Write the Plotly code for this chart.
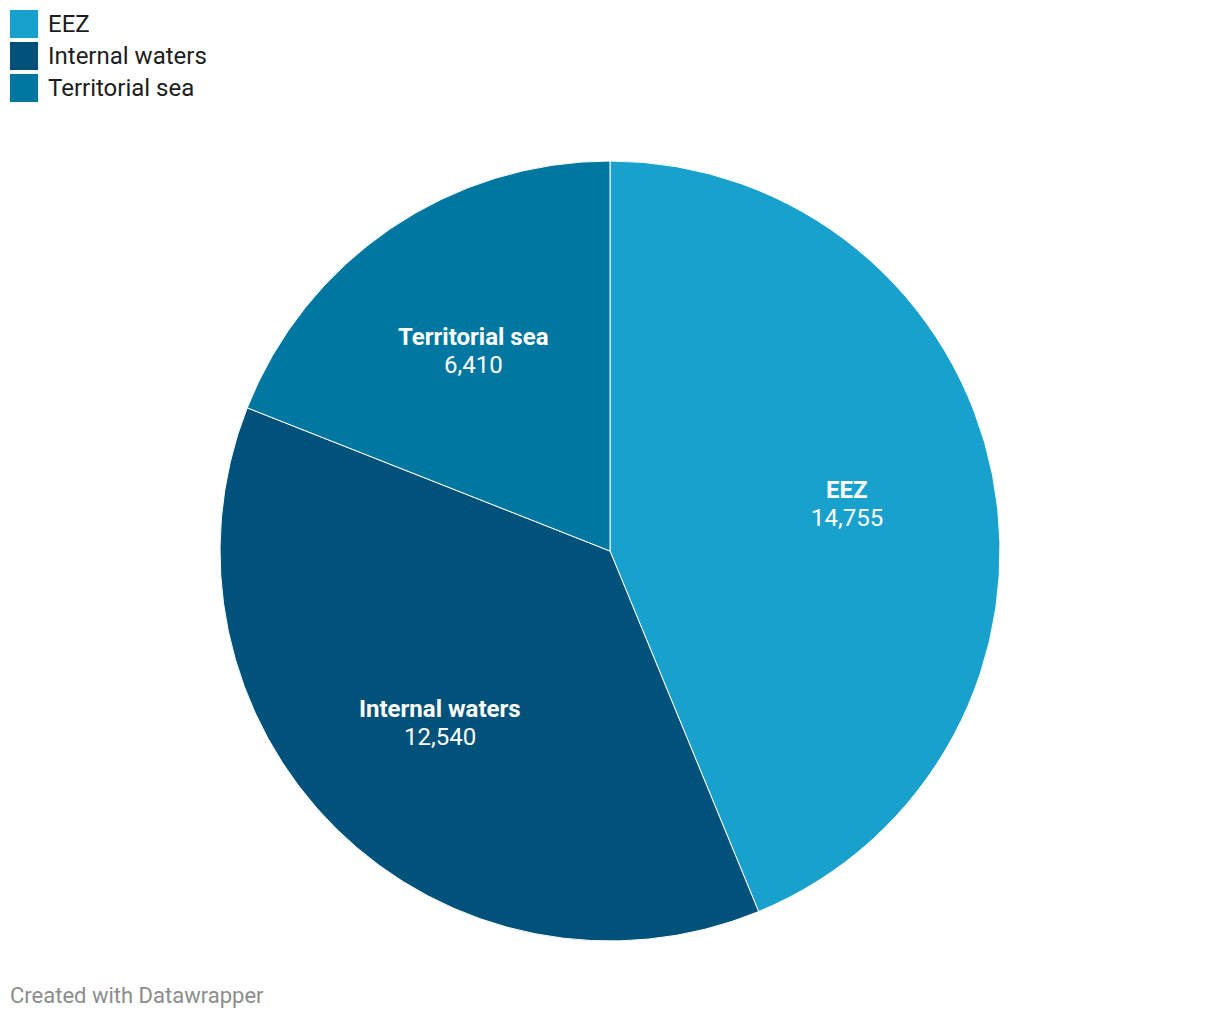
import math
import plotly.graph_objects as go

labels = ['EEZ', 'Internal waters', 'Territorial sea']
values = [14755, 12540, 6410]
colors = ['#18a1cd', '#00527a', '#0077a0']

W, H = 1220, 1018
OFF = 8  # page body margin
cx, cy, R = 610 - OFF, 551 - OFF, 390  # pie centre and radius in pixels

fig = go.Figure(go.Pie(
    labels=labels, values=values, sort=False, direction='clockwise', rotation=0,
    marker=dict(colors=colors, line=dict(color='white', width=1)),
    textinfo='none', hoverinfo='label+value', showlegend=False,
    domain=dict(x=[0, 2 * cx / W], y=[1 - (cy + R) / H, 1 - (cy - R) / H]),
))

# slice labels, placed at the middle angle of each slice (name above, value below)
total = sum(values)
start = 0
annotations = []
for lab, val in zip(labels, values):
    mid = (start + val / 2) / total * 2 * math.pi
    start += val
    px_ = cx + 0.62 * R * math.sin(mid)
    py_ = cy - 0.62 * R * math.cos(mid)
    for txt, dy in (('<b>%s</b>' % lab, -14), (format(val, ','), 14)):
        annotations.append(dict(
            x=px_ / W, y=1 - (py_ + dy) / H, xref='paper', yref='paper',
            text=txt, showarrow=False,
            font=dict(family='Roboto', size=24, color='white'),
            xanchor='center', yanchor='middle'))

# legend drawn by hand (big squares)
shapes = []
for i, (lab, col) in enumerate(zip(labels, colors)):
    top = 10 - OFF + i * 32
    shapes.append(dict(type='rect', xref='paper', yref='paper',
                       x0=(10 - OFF) / W, x1=(38 - OFF) / W,
                       y0=1 - (top + 28) / H, y1=1 - top / H,
                       fillcolor=col, line=dict(width=0)))
    annotations.append(dict(
        x=(46 - OFF) / W, y=1 - (top + 14) / H, xref='paper', yref='paper', text=lab,
        showarrow=False, xanchor='left', yanchor='middle',
        font=dict(family='Roboto', size=24, color='#1d1d1d')))

annotations.append(dict(
    x=(8 - OFF) / W, y=1 - (995 - OFF) / H, xref='paper', yref='paper',
    text='Created with Datawrapper', showarrow=False, xanchor='left', yanchor='middle',
    font=dict(family='Roboto', size=22, color='#8c8c8c')))

fig.update_layout(width=W, height=H, margin=dict(l=0, r=0, t=0, b=0),
                  paper_bgcolor='white', plot_bgcolor='white',
                  annotations=annotations, shapes=shapes)

fig.write_html("out.html")
